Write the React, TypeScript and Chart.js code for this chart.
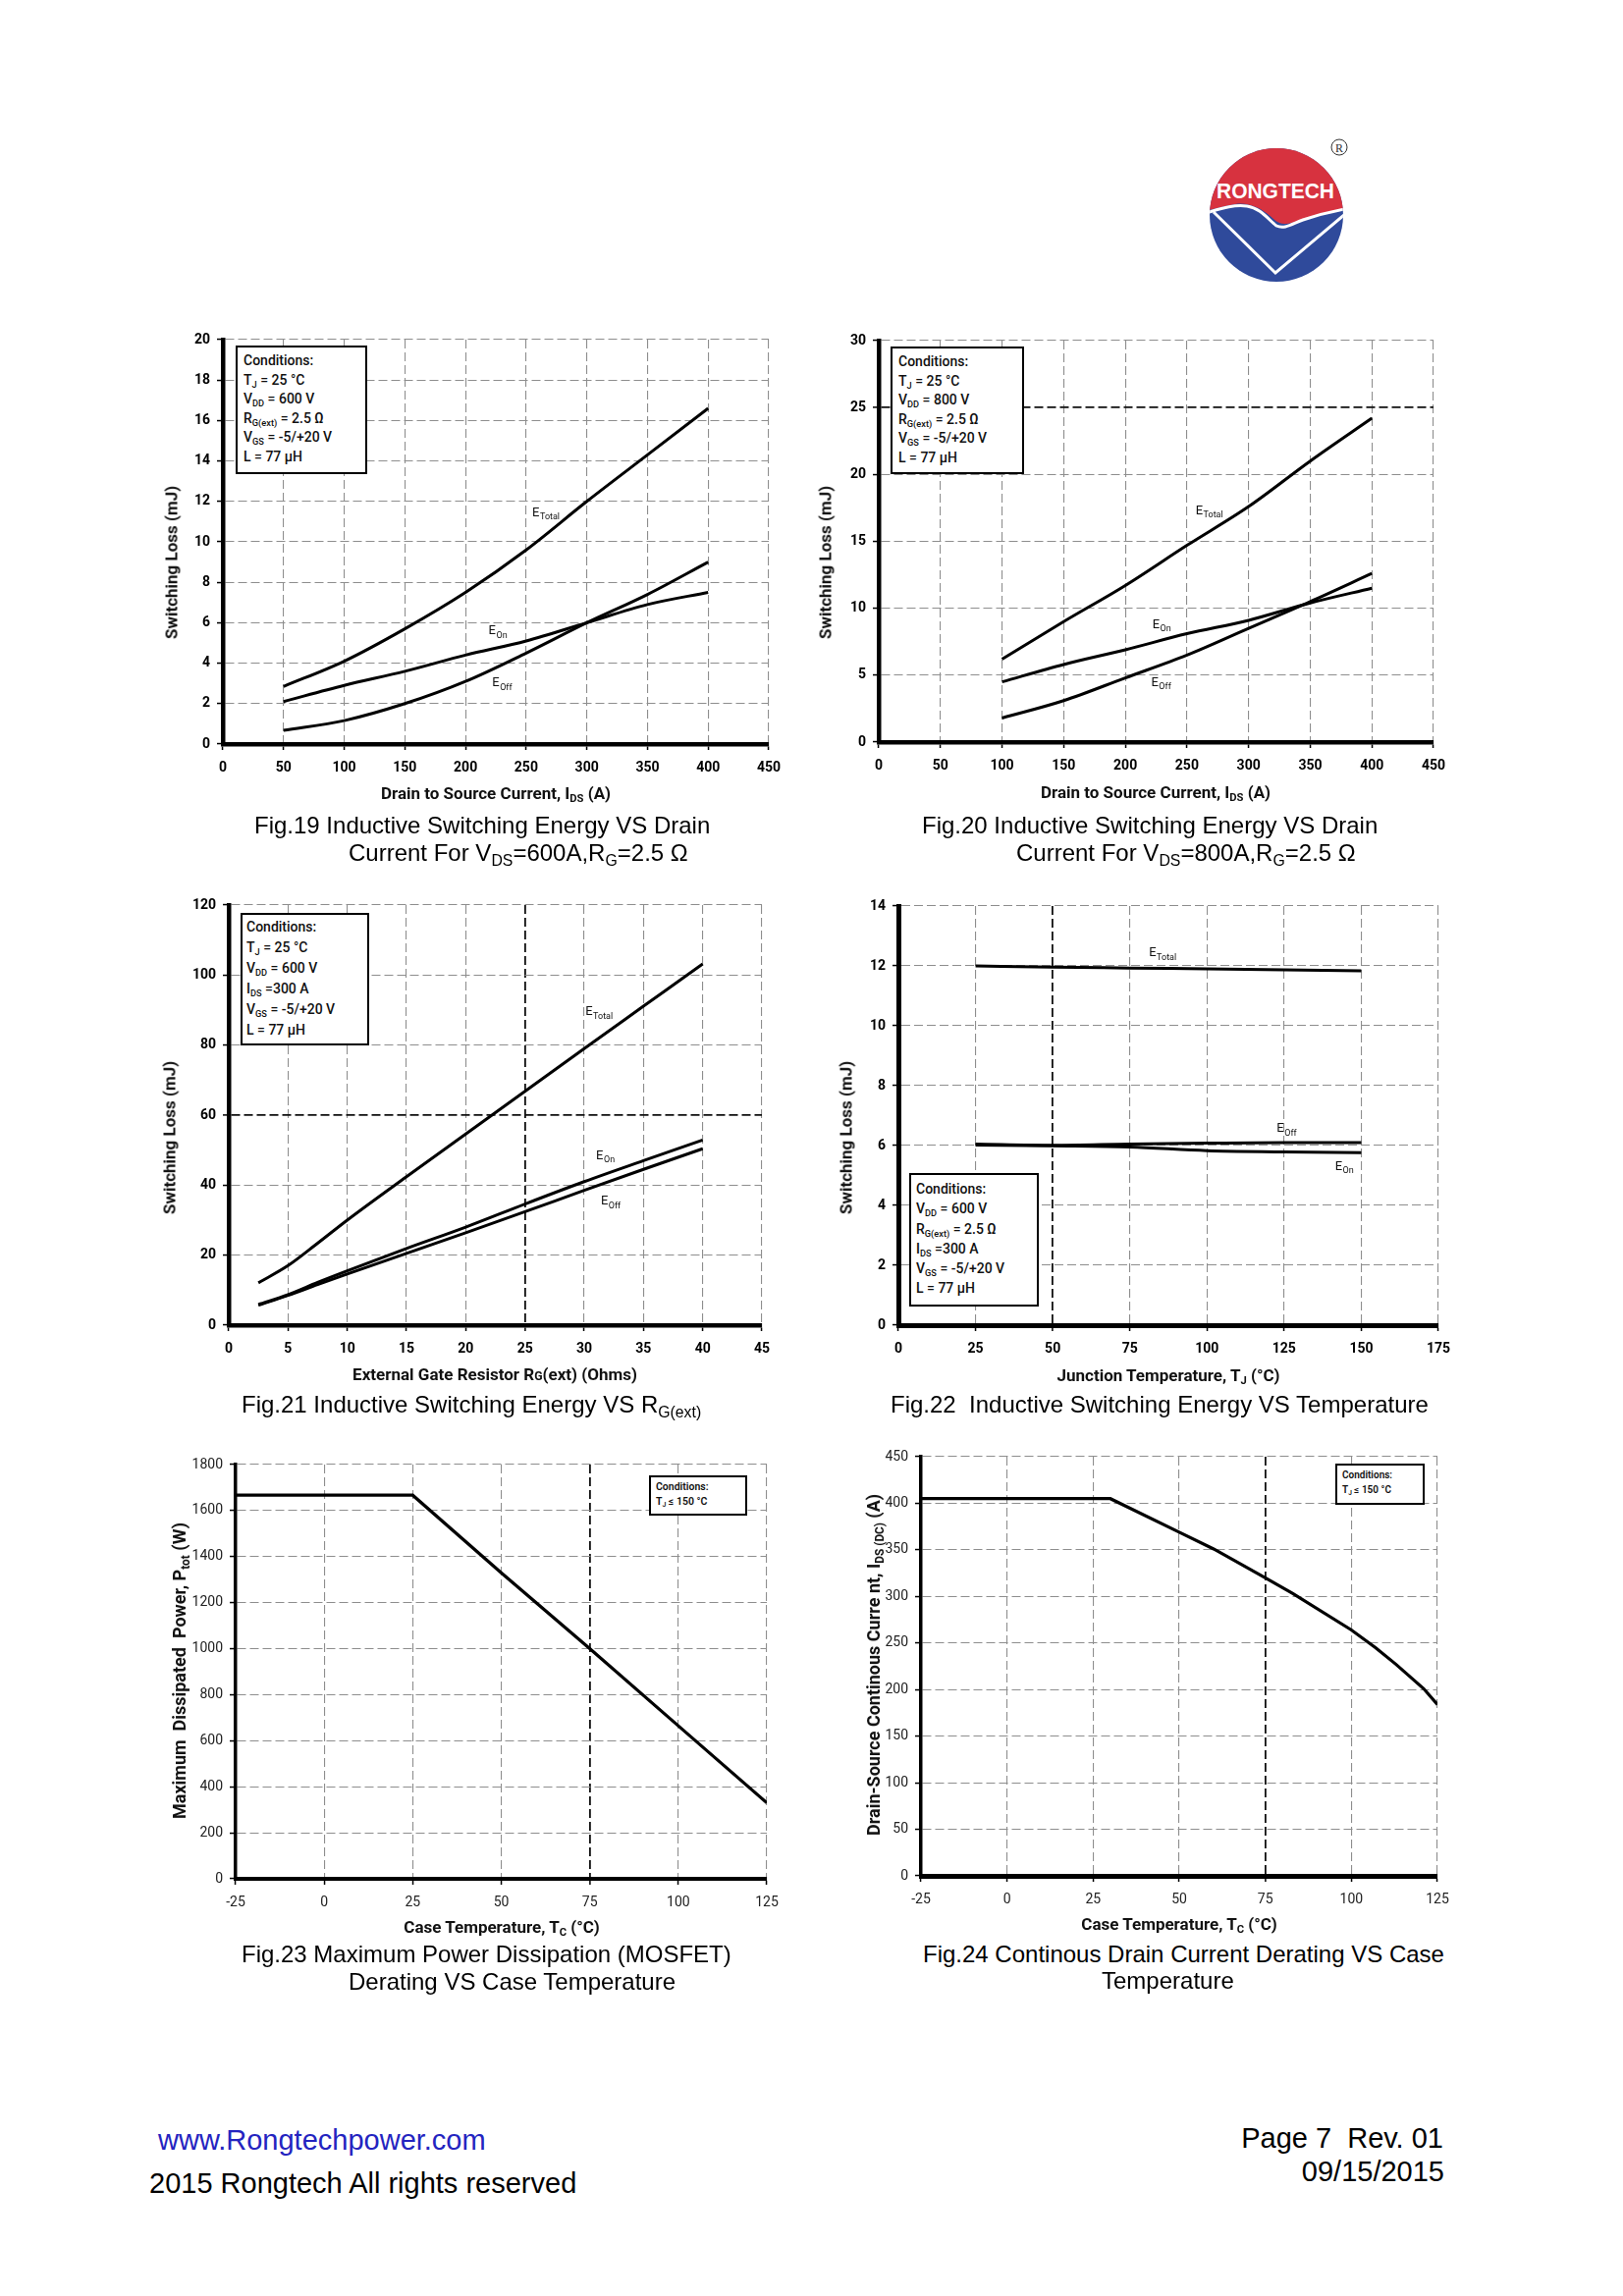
import React, { useEffect, useRef } from "react";
import { Chart, registerables } from "chart.js";

Chart.register(...registerables);

const FONT = "Roboto, 'DejaVu Sans', sans-serif";
const CAP_FONT = "'Liberation Sans', Arial, sans-serif";

// ---------------- Fig.19 data ----------------
const fig19Current = [50, 100, 150, 200, 250, 300, 350, 400];
const fig19ETotal = [2.85, 4.1, 5.7, 7.5, 9.6, 12.0, 14.3, 16.6];
const fig19EOn = [2.1, 2.9, 3.6, 4.4, 5.1, 6.0, 6.9, 7.5];
const fig19EOff = [0.68, 1.16, 2.0, 3.1, 4.5, 6.0, 7.4, 9.0];
const fig19LabelNames = ["Total", "On", "Off"];
const fig19LabelX = [255, 219, 222];
const fig19LabelY = [11.5, 5.65, 3.07];

// ---------------- Fig.20 data ----------------
const fig20Current = [100, 150, 200, 250, 300, 350, 400];
const fig20ETotal = [6.2, 9.0, 11.7, 14.7, 17.6, 21.0, 24.2];
const fig20EOn = [4.5, 5.8, 6.9, 8.1, 9.1, 10.4, 11.5];
const fig20EOff = [1.8, 3.1, 4.8, 6.5, 8.5, 10.5, 12.6];
const fig20LabelNames = ["Total", "On", "Off"];
const fig20LabelX = [257, 222, 221];
const fig20LabelY = [17.36, 8.85, 4.53];

// ---------------- Fig.21 data ----------------
const fig21Rg = [2.5, 5, 7.5, 10, 15, 20, 25, 30, 35, 40];
const fig21ETotal = [12.1, 17.0, 23.4, 30.0, 42.4, 54.6, 66.8, 79.0, 91.1, 103.2];
const fig21EOn = [5.9, 8.7, 12.2, 15.5, 21.9, 28.0, 34.6, 41.0, 47.0, 52.9];
const fig21EOff = [5.7, 8.5, 11.6, 14.6, 20.5, 26.4, 32.4, 38.5, 44.5, 50.4];
const fig21LabelNames = ["Total", "On", "Off"];
const fig21LabelX = [30.1, 31.0, 31.4];
const fig21LabelY = [89.8, 48.8, 35.7];

// ---------------- Fig.22 data ----------------
const fig22Tj = [25, 50, 75, 100, 125, 150];
const fig22ETotal = [12.0, 11.96, 11.93, 11.9, 11.87, 11.84];
const fig22EOff = [6.05, 6.01, 6.05, 6.08, 6.1, 6.1];
const fig22EOn = [6.02, 5.99, 5.95, 5.83, 5.79, 5.76];
const fig22LabelNames = ["Total", "Off", "On"];
const fig22LabelX = [81.2, 122.6, 141.5];
const fig22LabelY = [12.47, 6.6, 5.33];

// ---------------- Fig.23 data ----------------
const fig23Tc = [-25, 25, 50, 75, 100, 125];
const fig23Ptot = [1667, 1667, 1330, 1000, 665, 330];

// ---------------- Fig.24 data ----------------
const fig24Tc = [-25, 30, 50, 60, 75, 83, 100, 107, 113, 121, 125];
const fig24Ids = [405, 405, 369, 351, 320, 303, 264, 245, 227, 201, 184];

// ---------------- types ----------------
type Seg = string | { sub: string } | { small: string };
type SeriesSpec = { x: number[]; y: number[] };
type LabelSpec = { names: string[]; xs: number[]; ys: number[] };
interface AxisSpec {
  min: number;
  max: number;
  step: number;
  dark: number[];
  border: number;
}
interface Spec {
  plot: { left: number; top: number; width: number; height: number };
  x: AxisSpec;
  y: AxisSpec;
  series: SeriesSpec[];
  smooth: boolean;
  lineWidth: number;
  tickBold: boolean;
  labels: LabelSpec;
}

const specs: Spec[] = [
  {
    plot: { left: 227, top: 346, width: 556, height: 412 },
    x: { min: 0, max: 450, step: 50, dark: [], border: 4.5 },
    y: { min: 0, max: 20, step: 2, dark: [], border: 4.5 },
    series: [
      { x: fig19Current, y: fig19ETotal },
      { x: fig19Current, y: fig19EOn },
      { x: fig19Current, y: fig19EOff },
    ],
    smooth: true,
    lineWidth: 3,
    tickBold: true,
    labels: { names: fig19LabelNames, xs: fig19LabelX, ys: fig19LabelY },
  },
  {
    plot: { left: 895, top: 347, width: 565, height: 409 },
    x: { min: 0, max: 450, step: 50, dark: [], border: 4.5 },
    y: { min: 0, max: 30, step: 5, dark: [25], border: 4.5 },
    series: [
      { x: fig20Current, y: fig20ETotal },
      { x: fig20Current, y: fig20EOn },
      { x: fig20Current, y: fig20EOff },
    ],
    smooth: true,
    lineWidth: 3,
    tickBold: true,
    labels: { names: fig20LabelNames, xs: fig20LabelX, ys: fig20LabelY },
  },
  {
    plot: { left: 233, top: 922, width: 543, height: 428 },
    x: { min: 0, max: 45, step: 5, dark: [25], border: 4.5 },
    y: { min: 0, max: 120, step: 20, dark: [60], border: 4.5 },
    series: [
      { x: fig21Rg, y: fig21ETotal },
      { x: fig21Rg, y: fig21EOn },
      { x: fig21Rg, y: fig21EOff },
    ],
    smooth: true,
    lineWidth: 3,
    tickBold: true,
    labels: { names: fig21LabelNames, xs: fig21LabelX, ys: fig21LabelY },
  },
  {
    plot: { left: 915, top: 923, width: 550, height: 427 },
    x: { min: 0, max: 175, step: 25, dark: [50], border: 5 },
    y: { min: 0, max: 14, step: 2, dark: [], border: 5 },
    series: [
      { x: fig22Tj, y: fig22ETotal },
      { x: fig22Tj, y: fig22EOff },
      { x: fig22Tj, y: fig22EOn },
    ],
    smooth: true,
    lineWidth: 3,
    tickBold: true,
    labels: { names: fig22LabelNames, xs: fig22LabelX, ys: fig22LabelY },
  },
  {
    plot: { left: 240, top: 1492, width: 541, height: 422 },
    x: { min: -25, max: 125, step: 25, dark: [75], border: 4 },
    y: { min: 0, max: 1800, step: 200, dark: [], border: 3.5 },
    series: [{ x: fig23Tc, y: fig23Ptot }],
    smooth: false,
    lineWidth: 3.2,
    tickBold: false,
    labels: { names: [], xs: [], ys: [] },
  },
  {
    plot: { left: 938, top: 1484, width: 526, height: 427 },
    x: { min: -25, max: 125, step: 25, dark: [75], border: 5 },
    y: { min: 0, max: 450, step: 50, dark: [], border: 3.5 },
    series: [{ x: fig24Tc, y: fig24Ids }],
    smooth: false,
    lineWidth: 3.2,
    tickBold: false,
    labels: { names: [], xs: [], ys: [] },
  },
];

const PAD_L = 80;
const PAD_T = 16;
const PAD_R = 30;
const PAD_B = 46;

function makeLabelPlugin(labels: LabelSpec) {
  return {
    id: "curveLabels",
    afterDatasetsDraw(chart: any) {
      const { ctx } = chart;
      const xs = chart.scales.x;
      const ys = chart.scales.y;
      ctx.save();
      ctx.fillStyle = "#111";
      ctx.textAlign = "left";
      ctx.textBaseline = "alphabetic";
      labels.names.forEach((name, i) => {
        const px = xs.getPixelForValue(labels.xs[i]);
        const py = ys.getPixelForValue(labels.ys[i]);
        ctx.font = `13px ${FONT}`;
        ctx.fillText("E", px, py + 4.6);
        const w = ctx.measureText("E").width;
        ctx.font = `9px ${FONT}`;
        ctx.fillText(name, px + w + 0.5, py + 8);
      });
      ctx.restore();
    },
  };
}

function axisOptions(a: AxisSpec, isX: boolean, bold: boolean) {
  return {
    type: "linear" as const,
    min: a.min,
    max: a.max,
    ticks: {
      stepSize: a.step,
      autoSkip: false,
      maxRotation: 0,
      maxTicksLimit: 30,
      padding: isX ? 10 : 7,
      color: bold ? "#000" : "#222",
      font: { family: FONT, size: 14, weight: bold ? "bold" : "normal" },
      callback: (v: any) => String(v),
    },
    grid: {
      color: (c: any) => (a.dark.includes(c.tick?.value) ? "#111" : "#8e8e8e"),
      lineWidth: (c: any) => (a.dark.includes(c.tick?.value) ? 1.8 : 1.1),
      drawTicks: true,
      tickLength: 6,
      tickColor: "#000",
      tickWidth: 1.5,
    },
    border: { display: true, color: "#000", width: a.border, dash: [9, 4] },
    afterFit: (s: any) => {
      if (isX) s.height = PAD_B;
      else s.width = PAD_L;
    },
  };
}

function ChartBox({ spec }: { spec: Spec }) {
  const ref = useRef<HTMLCanvasElement>(null);
  const w = spec.plot.width + PAD_L + PAD_R;
  const h = spec.plot.height + PAD_T + PAD_B;
  useEffect(() => {
    const canvas = ref.current;
    if (!canvas) return;
    const chart = new Chart(canvas, {
      type: "line",
      data: {
        datasets: spec.series.map((s) => ({
          data: s.x.map((xv, i) => ({ x: xv, y: s.y[i] })),
          borderColor: "#000",
          backgroundColor: "#000",
          borderWidth: spec.lineWidth,
          pointRadius: 0,
          fill: false,
          cubicInterpolationMode: spec.smooth ? "monotone" : "default",
          tension: 0,
        })),
      },
      options: {
        responsive: false,
        animation: false,
        devicePixelRatio: 1,
        layout: { padding: { left: 0, top: PAD_T, right: PAD_R, bottom: 0 } },
        plugins: {
          legend: { display: false },
          tooltip: { enabled: false },
          title: { display: false },
        },
        elements: { point: { radius: 0 } },
        scales: {
          x: axisOptions(spec.x, true, spec.tickBold),
          y: axisOptions(spec.y, false, spec.tickBold),
        },
      } as any,
      plugins: [makeLabelPlugin(spec.labels) as any],
    });
    return () => chart.destroy();
  }, [spec]);
  return (
    <canvas
      ref={ref}
      width={w}
      height={h}
      style={{
        position: "absolute",
        left: spec.plot.left - PAD_L,
        top: spec.plot.top - PAD_T,
        width: w,
        height: h,
      }}
    />
  );
}

function Rich({ segs }: { segs: Seg[] }) {
  return (
    <>
      {segs.map((s, i) => {
        if (typeof s === "string") return <React.Fragment key={i}>{s}</React.Fragment>;
        if ("sub" in s)
          return (
            <sub key={i} style={{ fontSize: "0.66em", verticalAlign: "-0.3em", lineHeight: 0 }}>
              {s.sub}
            </sub>
          );
        return (
          <span key={i} style={{ fontSize: "0.72em" }}>
            {s.small}
          </span>
        );
      })}
    </>
  );
}

function AxisTitle({ cx, cy, segs, vertical, size }: { cx: number; cy: number; segs: Seg[]; vertical?: boolean; size: number }) {
  return (
    <div
      style={{
        position: "absolute",
        left: cx,
        top: cy,
        transform: vertical ? "translate(-50%,-50%) rotate(-90deg)" : "translate(-50%,-50%)",
        whiteSpace: "pre",
        fontFamily: FONT,
        fontWeight: "bold",
        fontSize: size,
        lineHeight: `${size}px`,
        color: "#111",
      }}
    >
      <Rich segs={segs} />
    </div>
  );
}

function Line({ left, right, cy, segs, size, color, family }: { left?: number; right?: number; cy: number; segs: Seg[]; size: number; color?: string; family?: string }) {
  const style: React.CSSProperties = {
    position: "absolute",
    top: cy - size / 2,
    whiteSpace: "pre",
    fontFamily: family || CAP_FONT,
    fontSize: size,
    lineHeight: `${size}px`,
    color: color || "#000",
  };
  if (left !== undefined) style.left = left;
  if (right !== undefined) style.right = right;
  return (
    <div style={style}>
      <Rich segs={segs} />
    </div>
  );
}

function CondBox({ left, top, width, height, lines, size, lh, pt, pl, weight }: { left: number; top: number; width: number; height: number; lines: Seg[][]; size: number; lh: number; pt: number; pl: number; weight?: number }) {
  return (
    <div
      style={{
        position: "absolute",
        left,
        top,
        width,
        height,
        boxSizing: "border-box",
        border: "2px solid #000",
        background: "#fff",
        paddingTop: pt,
        paddingLeft: pl,
        fontFamily: FONT,
        fontSize: size,
        fontWeight: weight || 500,
        lineHeight: `${lh}px`,
        color: "#111",
        whiteSpace: "pre",
      }}
    >
      {lines.map((l, i) => (
        <div key={i}>
          <Rich segs={l} />
        </div>
      ))}
    </div>
  );
}

const condA = (vdd: string): Seg[][] => [
  ["Conditions:"],
  ["T", { sub: "J" }, " = 25 °C"],
  ["V", { sub: "DD" }, ` = ${vdd} V`],
  ["R", { sub: "G(ext)" }, " = 2.5 Ω"],
  ["V", { sub: "GS" }, " = -5/+20 V"],
  ["L = 77 µH"],
];
const condC: Seg[][] = [
  ["Conditions:"],
  ["T", { sub: "J" }, " = 25 °C"],
  ["V", { sub: "DD" }, " = 600 V"],
  ["I", { sub: "DS" }, " =300 A"],
  ["V", { sub: "GS" }, " = -5/+20 V"],
  ["L = 77 µH"],
];
const condD: Seg[][] = [
  ["Conditions:"],
  ["V", { sub: "DD" }, " = 600 V"],
  ["R", { sub: "G(ext)" }, " = 2.5 Ω"],
  ["I", { sub: "DS" }, " =300 A"],
  ["V", { sub: "GS" }, " = -5/+20 V"],
  ["L = 77 µH"],
];
const condE: Seg[][] = [["Conditions:"], ["T", { sub: "J" }, " ≤ 150 °C"]];

function Logo() {
  return (
    <svg style={{ position: "absolute", left: 1200, top: 120 }} width={200} height={180} viewBox="0 0 200 180">
      <defs>
        <clipPath id="logoClip">
          <circle cx={100} cy={99} r={68} />
        </clipPath>
      </defs>
      <g clipPath="url(#logoClip)">
        <rect x={0} y={0} width={200} height={180} fill="#2f4a9b" />
        <path
          d="M20 20 H185 V90 C160 94, 140 98, 124 104 C112 109, 104 110, 97 103 C86 92, 72 86, 58 88 C45 90, 34 94, 20 96 Z"
          fill="#d7323f"
        />
        <path
          d="M28 97 C42 93, 56 88, 70 90 C84 92, 92 104, 100 110 C108 114, 116 108, 127 104 C142 99, 158 95, 175 92"
          stroke="#fff"
          strokeWidth={3}
          fill="none"
        />
        <polyline points="36,96 99,158 170,98" stroke="#fff" strokeWidth={3} fill="none" />
      </g>
      <text
        x={99}
        y={82}
        fill="#fff"
        fontFamily="'Liberation Sans', Arial, sans-serif"
        fontWeight="bold"
        fontSize={22}
        textAnchor="middle"
        textLength={120}
        lengthAdjust="spacingAndGlyphs"
      >
        RONGTECH
      </text>
      <circle cx={164} cy={30} r={8} fill="none" stroke="#333" strokeWidth={1} />
      <text x={164} y={34.5} fontSize={12} fontFamily="'Liberation Serif', serif" textAnchor="middle" fill="#333">
        R
      </text>
    </svg>
  );
}

export default function App() {
  return (
    <div
      style={{
        position: "absolute",
        left: 0,
        top: 0,
        width: 1653,
        height: 2339,
        background: "#fff",
        overflow: "hidden",
      }}
    >
      <Logo />
      {specs.map((s, i) => (
        <ChartBox key={i} spec={s} />
      ))}

      {/* conditions boxes */}
      <CondBox left={240} top={352} width={134} height={131} lines={condA("600")} size={14} lh={19.6} pt={4} pl={6} />
      <CondBox left={907} top={353} width={136} height={130} lines={condA("800")} size={14} lh={19.6} pt={4} pl={6} />
      <CondBox left={245} top={930} width={131} height={135} lines={condC} size={14} lh={20.9} pt={2} pl={4} />
      <CondBox left={926} top={1195} width={132} height={136} lines={condD} size={14} lh={20.3} pt={4} pl={5} />
      <CondBox left={661} top={1503} width={100} height={41} lines={condE} size={10.5} lh={14.5} pt={3} pl={5} weight={600} />
      <CondBox left={1360} top={1491} width={91} height={42} lines={condE} size={10} lh={15} pt={2} pl={5} weight={600} />

      {/* axis titles */}
      <AxisTitle cx={505} cy={808} size={17} segs={["Drain to Source Current, I", { sub: "DS" }, " (A)"]} />
      <AxisTitle cx={175} cy={573} size={17} vertical segs={["Switching Loss (mJ)"]} />
      <AxisTitle cx={1177} cy={807} size={17} segs={["Drain to Source Current, I", { sub: "DS" }, " (A)"]} />
      <AxisTitle cx={841} cy={573} size={17} vertical segs={["Switching Loss (mJ)"]} />
      <AxisTitle cx={504} cy={1401} size={17} segs={["External Gate Resistor R", { small: "G" }, "(ext) (Ohms)"]} />
      <AxisTitle cx={173} cy={1159} size={17} vertical segs={["Switching Loss (mJ)"]} />
      <AxisTitle cx={1190} cy={1401} size={17} segs={["Junction Temperature, T", { sub: "J" }, " (°C)"]} />
      <AxisTitle cx={862} cy={1159} size={17} vertical segs={["Switching Loss (mJ)"]} />
      <AxisTitle cx={511} cy={1963} size={17} segs={["Case Temperature, T", { sub: "C" }, " (°C)"]} />
      <AxisTitle cx={183} cy={1702} size={18} vertical segs={["Maximum  Dissipated  Power, P", { sub: "tot" }, " (W)"]} />
      <AxisTitle cx={1201} cy={1960} size={17} segs={["Case Temperature, T", { sub: "C" }, " (°C)"]} />
      <AxisTitle cx={890} cy={1696} size={18} vertical segs={["Drain-Source Continous Curre nt, I", { sub: "DS (DC)" }, " (A)"]} />

      {/* captions */}
      <Line left={259} cy={841} size={24} segs={["Fig.19 Inductive Switching Energy VS Drain"]} />
      <Line left={355} cy={869} size={24} segs={["Current For V", { sub: "DS" }, "=600A,R", { sub: "G" }, "=2.5 Ω"]} />
      <Line left={939} cy={841} size={24} segs={["Fig.20 Inductive Switching Energy VS Drain"]} />
      <Line left={1035} cy={869} size={24} segs={["Current For V", { sub: "DS" }, "=800A,R", { sub: "G" }, "=2.5 Ω"]} />
      <Line left={246} cy={1431} size={24} segs={["Fig.21 Inductive Switching Energy VS R", { sub: "G(ext)" }]} />
      <Line left={907} cy={1431} size={24} segs={["Fig.22  Inductive Switching Energy VS Temperature"]} />
      <Line left={246} cy={1991} size={24} segs={["Fig.23 Maximum Power Dissipation (MOSFET)"]} />
      <Line left={355} cy={2019} size={24} segs={["Derating VS Case Temperature"]} />
      <Line left={940} cy={1991} size={24} segs={["Fig.24 Continous Drain Current Derating VS Case"]} />
      <Line left={1122} cy={2018} size={24} segs={["Temperature"]} />

      {/* footer */}
      <Line left={161} cy={2180} size={29} color="#2424c0" segs={["www.Rongtechpower.com"]} />
      <Line left={152} cy={2224} size={29} segs={["2015 Rongtech All rights reserved"]} />
      <Line right={183} cy={2178} size={29} segs={["Page 7  Rev. 01"]} />
      <Line right={182} cy={2212} size={29} segs={["09/15/2015"]} />
    </div>
  );
}
